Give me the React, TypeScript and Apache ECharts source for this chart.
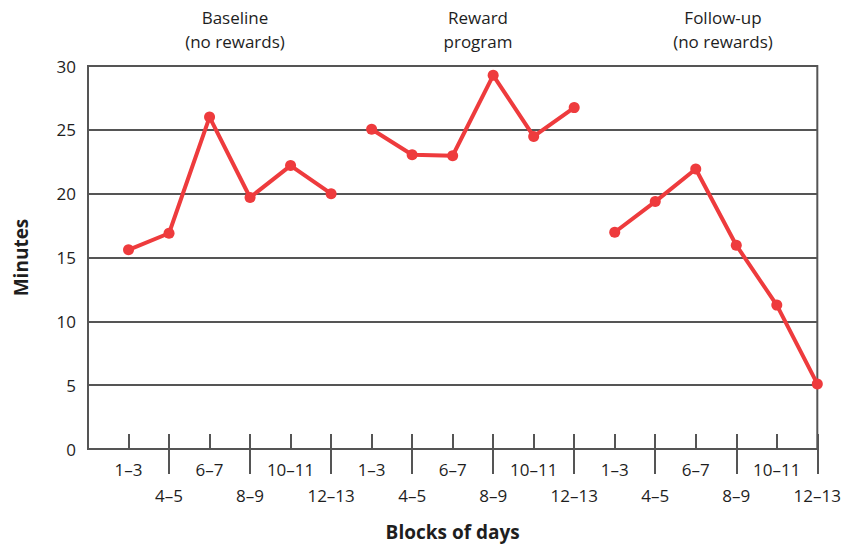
import React, { useEffect, useRef } from "react";
import * as echarts from "echarts";

const blockLabels = ["", "1–3", "4–5", "6–7", "8–9", "10–11", "12–13", "1–3", "4–5", "6–7", "8–9", "10–11", "12–13", "1–3", "4–5", "6–7", "8–9", "10–11", "12–13"];
const baseline = [15.6, 16.9, 26.0, 19.7, 22.2, 20.0];
const reward = [25.05, 23.05, 22.97, 29.27, 24.48, 26.74];
const followUp = [16.98, 19.38, 21.93, 15.96, 11.27, 5.1];
const phaseTitles = ["Baseline\n(no rewards)", "Reward\nprogram", "Follow-up\n(no rewards)"];
const yTicks = [0, 5, 10, 15, 20, 25, 30];

const FONT = "'Open Sans', 'Noto Sans', sans-serif";
const AXIS = "#555555";
const RED = "#ee3b3d";

export default function App() {
  const ref = useRef<HTMLDivElement>(null);
  useEffect(() => {
    if (!ref.current) return;
    const chart = echarts.init(ref.current, null, { renderer: "svg" });
    const groups = [baseline, reward, followUp];
    const series = groups.map((vals, g) => ({
      type: "line",
      xAxisIndex: 0,
      data: vals.map((v, i) => [g * 6 + i + 1, v]),
      lineStyle: { color: RED, width: 4 },
      itemStyle: { color: RED },
      symbol: "circle",
      symbolSize: 11,
      z: 5,
    }));
    const groupCenters = [230, 473, 718];
    chart.setOption({
      animation: false,
      textStyle: { fontFamily: FONT },
      title: phaseTitles.map((t, i) => ({
        text: t,
        left: groupCenters[i],
        top: 0,
        textAlign: "center",
        textStyle: { fontFamily: FONT, fontSize: 17, fontWeight: "normal", color: "#1e1e1e", lineHeight: 24 },
      })),
      grid: { left: 88, right: 24, top: 66, bottom: 96, show: true, borderColor: AXIS, borderWidth: 2, containLabel: false },
      xAxis: [
        {
          type: "category",
          data: blockLabels,
          boundaryGap: false,
          position: "bottom",
          name: "Blocks of days",
          nameLocation: "middle",
          nameGap: 73,
          nameTextStyle: { fontFamily: FONT, fontSize: 19, fontWeight: "bold", color: "#1e1e1e" },
          axisLine: { show: true, lineStyle: { color: AXIS, width: 2 } },
          axisTick: { show: true, inside: true, length: 15, lineStyle: { color: AXIS, width: 2 }, interval: (i: number) => i > 0 },
          axisLabel: {
            interval: (i: number) => i % 2 === 1,
            margin: 12,
            fontFamily: FONT,
            fontSize: 17,
            color: "#1e1e1e",
          },
          splitLine: { show: false },
        },
        {
          type: "category",
          data: blockLabels,
          boundaryGap: false,
          position: "bottom",
          axisLine: { show: false },
          axisTick: { show: true, inside: false, length: 25, lineStyle: { color: AXIS, width: 2 }, interval: (i: number) => i > 0 && i % 2 === 0 },
          axisLabel: {
            interval: (i: number) => i > 0 && i % 2 === 0,
            margin: 38,
            fontFamily: FONT,
            fontSize: 17,
            color: "#1e1e1e",
          },
          splitLine: { show: false },
        },
      ],
      yAxis: {
        type: "value",
        min: 0,
        max: 30,
        interval: 5,
        name: "Minutes",
        nameLocation: "middle",
        nameRotate: 90,
        nameGap: 58,
        nameTextStyle: { fontFamily: FONT, fontSize: 19, fontWeight: "bold", color: "#1e1e1e" },
        axisLine: { show: true, lineStyle: { color: AXIS, width: 2 } },
        axisTick: { show: false },
        axisLabel: {
          margin: 12,
          fontFamily: FONT,
          fontSize: 17,
          color: "#1e1e1e",
          formatter: (v: number) => (yTicks.includes(v) ? String(v) : ""),
        },
        splitLine: { show: true, lineStyle: { color: AXIS, width: 2 } },
      },
      series,
    });
    return () => chart.dispose();
  }, []);
  return <div ref={ref} style={{ width: 844, height: 546, position: "absolute", left: 0, top: 0 }} />;
}
